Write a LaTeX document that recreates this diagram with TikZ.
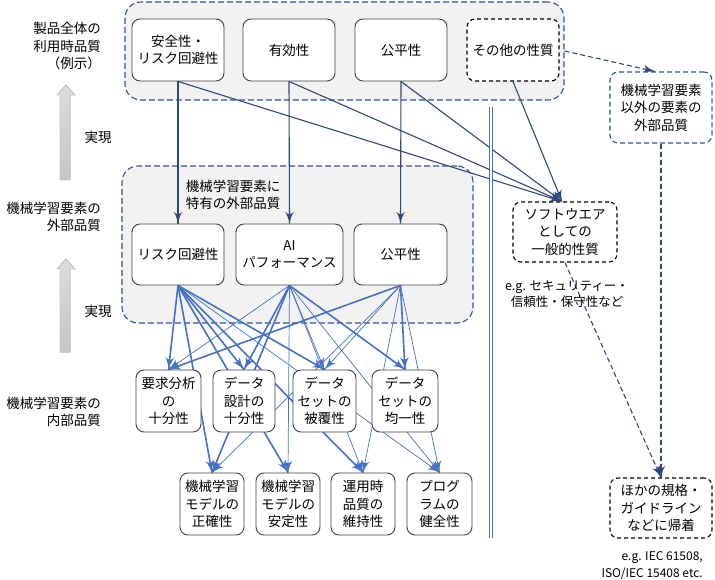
\documentclass[tikz,border=0pt]{standalone}
\usepackage{fontspec}
\setmainfont{Noto Sans CJK JP}
\usepackage{tikz}
\usetikzlibrary{arrows}
\usetikzlibrary{decorations.markings}
\pgfdeclarelayer{panels}
\pgfdeclarelayer{links}
\pgfsetlayers{panels,links,main}
\tikzset{tipto/.style = {decoration={markings,
                                     mark=at position 1 with {\arrow[scale=#1]{latex'}}},
                         postaction={decorate}}}
\definecolor{mnavy}{RGB}{47, 72, 125}
\definecolor{mlink}{RGB}{68, 114, 196}
\definecolor{mframe}{RGB}{47, 85, 151}
\definecolor{mpanel}{RGB}{242, 242, 242}
\definecolor{medge}{RGB}{64, 64, 64}
\tikzset{qbox/.style = {draw=medge, fill=white, rounded corners=8pt, line width=0.9pt,
                        align=center, inner sep=2pt}}
\tikzset{dqbox/.style = {qbox, draw=black, line width=1.1pt, dash pattern=on 4pt off 3pt}}
\tikzset{bqbox/.style = {qbox, draw=mframe, line width=1.1pt, dash pattern=on 5pt off 3pt}}
\tikzset{panel/.style = {draw=mframe, fill=mpanel, line width=1.1pt,
                         dash pattern=on 6pt off 3pt, rounded corners=16pt}}
\tikzset{navyln/.style = {draw=mnavy, line width=1.1pt, tipto=1.9}}
\tikzset{bluethick/.style = {draw=mlink, line width=1.6pt, tipto=1.6}}
\tikzset{bluethin/.style = {draw=mlink, line width=0.7pt, tipto=2.4}}
\tikzset{realizearrow/.style = {draw=gray!60, line width=0.4pt, top color=gray!28, bottom color=gray!45}}

\begin{document}
\begin{tikzpicture}[x=1pt, y=-1pt, font=\fontsize{13.5pt}{17.5pt}\selectfont]
    \useasboundingbox (0, 0) rectangle (715, 580);

    \begin{pgfonlayer}{panels}
      \node [panel, minimum width=439pt, minimum height=98pt] (usePanel) at (344.5, 51) {};
      \node [panel, minimum width=351pt, minimum height=157pt] (extPanel) at (297.5, 244.5) {};
    \end{pgfonlayer}

    % quality in use
    \node [qbox, minimum width=92pt, minimum height=62pt] (safety) at (178, 50) {安全性・\\リスク回避性};
    \node [qbox, minimum width=92pt, minimum height=62pt] (effect) at (289, 50) {有効性};
    \node [qbox, minimum width=92pt, minimum height=62pt] (fairTop) at (401, 50) {公平性};
    \node [dqbox, minimum width=92pt, minimum height=62pt] (other) at (513, 50) {その他の性質};

    \node [bqbox, minimum width=102pt, minimum height=71pt] (nonML) at (661, 107.5) {機械学習要素\\以外の要素の\\外部品質};
    \node [dqbox, minimum width=104pt, minimum height=60pt] (sw) at (565, 232) {ソフトウエア\\としての\\一般的性質};
    \node [dqbox, minimum width=102pt, minimum height=60pt] (others) at (661, 508) {ほかの規格・\\ガイドライン\\などに帰着};

    % external quality
    \node [align=center, inner sep=0pt] (extPanelLbl) at (233, 195) {機械学習要素に\\特有の外部品質};
    \node [qbox, minimum width=92pt, minimum height=61pt] (risk) at (178, 254.5) {リスク回避性};
    \node [qbox, minimum width=107pt, minimum height=61pt] (aiPerf) at (289.5, 254.5) {AI\\パフォーマンス};
    \node [qbox, minimum width=93pt, minimum height=61pt] (fairMid) at (400.5, 254.5) {公平性};

    % internal quality
    \node [qbox, minimum width=65pt, minimum height=62pt] (req) at (168.5, 401) {要求分析\\の\\十分性};
    \node [qbox, minimum width=62pt, minimum height=62pt] (dataDesign) at (244, 401) {データ\\設計の\\十分性};
    \node [qbox, minimum width=63pt, minimum height=62pt] (coverage) at (324.5, 401) {データ\\セットの\\被覆性};
    \node [qbox, minimum width=66pt, minimum height=62pt] (uniform) at (405, 401) {データ\\セットの\\均一性};
    \node [qbox, minimum width=64pt, minimum height=62pt] (accuracy) at (212, 504) {機械学習\\モデルの\\正確性};
    \node [qbox, minimum width=64pt, minimum height=62pt] (stability) at (288, 504) {機械学習\\モデルの\\安定性};
    \node [qbox, minimum width=64pt, minimum height=62pt] (upkeep) at (363, 504) {運用時\\品質の\\維持性};
    \node [qbox, minimum width=65pt, minimum height=62pt] (soundness) at (439.5, 504) {プログ\\ラムの\\健全性};

    % left side
    \node [align=right, anchor=east, inner sep=0pt] (useLbl) at (101, 46) {製品全体の\\利用時品質\\（例示）};
    \node [inner sep=0pt] (realizeA) at (98, 137) {実現};
    \node [align=right, anchor=east, inner sep=0pt] (extLbl) at (101, 217) {機械学習要素の\\外部品質};
    \node [inner sep=0pt] (realizeB) at (98, 311) {実現};
    \node [align=right, anchor=east, inner sep=0pt] (intLbl) at (101, 412) {機械学習要素の\\内部品質};
    \fill [realizearrow] (60, 180) -- (60, 95) -- (57, 95) -- (66, 85) -- (75, 95) -- (70, 95) -- (70, 180) -- cycle;
    \fill [realizearrow] (60, 352) -- (60, 269) -- (57, 269) -- (66, 259) -- (75, 269) -- (70, 269) -- (70, 352) -- cycle;
    \draw [realizearrow, fill=none] (60, 180) -- (60, 95) -- (57, 95) -- (66, 85) -- (75, 95) -- (70, 95) -- (70, 180) -- cycle;
    \draw [realizearrow, fill=none] (60, 352) -- (60, 269) -- (57, 269) -- (66, 259) -- (75, 269) -- (70, 269) -- (70, 352) -- cycle;

    % notes
    \node [align=center, inner sep=0pt, font=\fontsize{12.5pt}{15.5pt}\selectfont] (swNote) at (567, 294) {e.g. セキュリティー・\\信頼性・保守性など};
    \node [align=right, anchor=east, inner sep=0pt, font=\fontsize{12pt}{17pt}\selectfont] (stdNote) at (703, 566) {e.g. IEC 61508,\\ISO/IEC 15408 etc.};

    % separator
    \coordinate (sepTop) at (491, 107);
    \coordinate (sepBot) at (491, 538);
    \draw [draw=mlink, line width=0.7pt, double=white, double distance=2.5pt] (sepTop) -- (sepBot);

    \begin{pgfonlayer}{links}
      \draw [navyln] (safety.south) -- (risk.north);
      \draw [navyln] (effect.south) -- (aiPerf.north);
      \draw [navyln] (fairTop.south) -- (fairMid.north);
      \foreach \src in {safety, effect, fairTop, other}
        \draw [navyln] (\src.south) -- ([xshift=-3pt]sw.north);
      \draw [navyln, dash pattern=on 5pt off 3pt] (usePanel.east) -- ([xshift=-6pt]nonML.north);
      \draw [navyln, dash pattern=on 5pt off 3pt] (nonML.south) -- (others.north);
      \draw [navyln, dash pattern=on 5pt off 3pt] (sw.south) -- (others.north);

      \foreach \dst in {req, dataDesign, coverage, accuracy, stability, upkeep}
        \draw [bluethick] (risk.south) -- (\dst.north);
      \draw [bluethin] (risk.south) -- (soundness.north);
      \foreach \dst in {dataDesign, uniform, accuracy}
        \draw [bluethick] (aiPerf.south) -- (\dst.north);
      \foreach \dst in {req, coverage, stability, upkeep, soundness}
        \draw [bluethin] (aiPerf.south) -- (\dst.north);
      \foreach \dst in {req, uniform}
        \draw [bluethick] (fairMid.south) -- (\dst.north);
      \foreach \dst in {coverage, accuracy, upkeep, soundness}
        \draw [bluethin] (fairMid.south) -- (\dst.north);
    \end{pgfonlayer}
  \end{tikzpicture}
\end{document}
